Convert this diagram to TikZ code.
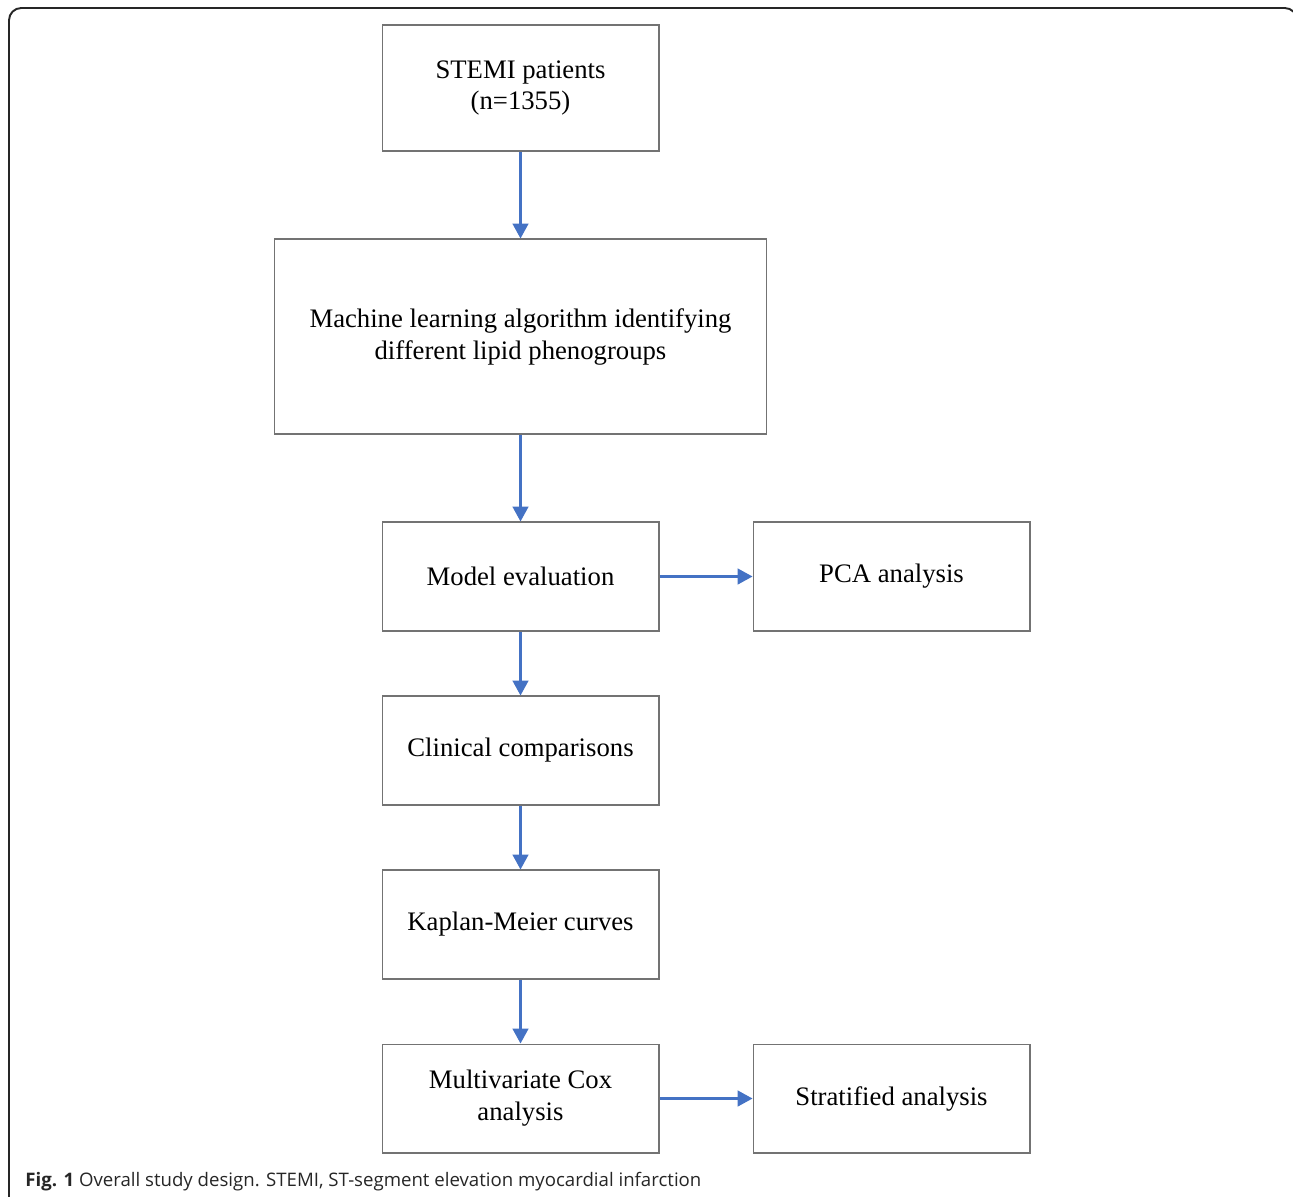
\documentclass[tikz,border=0pt]{standalone}
\usepackage{fontspec}
\setmainfont{Liberation Serif}
\newfontfamily\capfont{Open Sans}
\usetikzlibrary{arrows.meta}
\definecolor{flowblue}{RGB}{68,114,196}

\tikzset{
  stepbox/.style={draw=black!55, line width=0.6pt, align=center, inner sep=0pt,
    minimum width=5.54cm, minimum height=2.18cm},
  flow/.style={draw=flowblue, line width=1.2pt, -{Triangle[length=8.5pt,width=9pt]}}
}

\begin{document}
\begin{tikzpicture}[x=0.02cm, y=-0.02cm, font=\fontsize{15.2}{18.2}\selectfont]

   \useasboundingbox (0,0) rectangle (1293,1196);

   % frame
   \draw[line width=1.1pt, black!85, rounded corners=7pt] (9,1200) -- (9,8) -- (1297,8) -- (1297,1200);

   \node[stepbox, minimum height=2.52cm] (stemi) at (520.5,88) {STEMI patients\\(n=1355)};
   \node[stepbox, minimum width=9.86cm, minimum height=3.9cm] (ml) at (520.5,336.5)
        {Machine learning algorithm identifying\\different lipid phenogroups};
   \node[stepbox] (eval) at (520.5,576.5) {Model evaluation};
   \node[stepbox] (pca) at (891.5,576.5) {PCA analysis};
   \node[stepbox] (clin) at (520.5,750.5) {Clinical comparisons};
   \node[stepbox] (km) at (520.5,924.5) {Kaplan-Meier curves};
   \node[stepbox] (cox) at (520.5,1098.5) {Multivariate Cox\\analysis};
   \node[stepbox] (strat) at (891.5,1098.5) {Stratified analysis};

   \draw[flow] (stemi) -- (ml);
   \draw[flow] (ml) -- (eval);
   \draw[flow] (eval) -- (pca);
   \draw[flow] (eval) -- (clin);
   \draw[flow] (clin) -- (km);
   \draw[flow] (km) -- (cox);
   \draw[flow] (cox) -- (strat);

   \node[anchor=base west, inner sep=0pt, font=\capfont\fontsize{10.6}{13}\selectfont, black!85] (cap) at (25,1186)
        {\textbf{Fig. 1} Overall study design. STEMI, ST-segment elevation myocardial infarction};

\end{tikzpicture}
\end{document}
